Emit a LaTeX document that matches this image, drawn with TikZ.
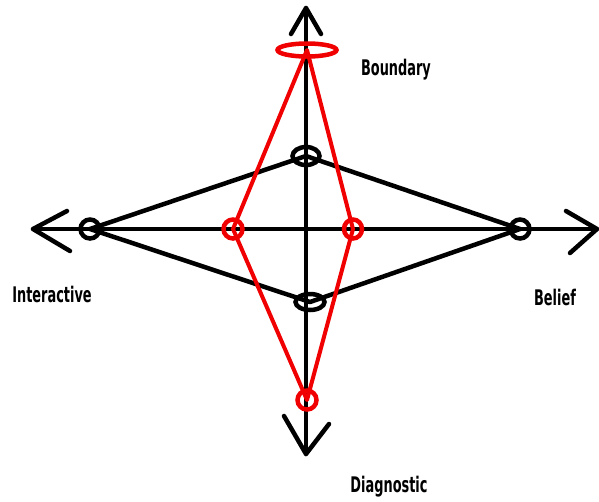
\documentclass[tikz,border=0pt]{standalone}
\usepackage{fontspec}
\newfontfamily\labfont[FakeStretch=0.6]{DejaVu Sans}
\usetikzlibrary{shapes.geometric}
\definecolor{myred}{RGB}{240,0,0}
\begin{document}
\begin{tikzpicture}[x=1pt,y=-1pt,
  blk/.style={line width=4.5pt,black,line cap=round,line join=round},
  rd/.style={line width=4pt,myred,line cap=round,line join=round},
  ring/.style={ellipse,draw,line width=4.5pt,inner sep=0pt},
  lab/.style={font=\labfont\bfseries\fontsize{21.5}{21.5}\selectfont,anchor=base,inner sep=0pt}]
\useasboundingbox[fill=white] (0,0) rectangle (599,501);
% axis end points
\coordinate (top) at (306,8);
\coordinate (bot) at (306,454);
\coordinate (lft) at (33,229);
\coordinate (rgt) at (597,229);
\coordinate (tl) at (291,34);
\coordinate (tr) at (321,34);
\coordinate (bl) at (284,416);
\coordinate (br) at (329,424);
\coordinate (ll) at (67,211);
\coordinate (lb) at (70,251);
\coordinate (ru) at (566,211);
\coordinate (rb) at (570,253);
% axes
\draw[blk] (top) -- (bot);
\draw[blk] (lft) -- (rgt);
\draw[blk] (tl) -- (top) -- (tr);
\draw[blk] (bl) -- (bot) -- (br);
\draw[blk] (ll) -- (lft) -- (lb);
\draw[blk] (ru) -- (rgt) -- (rb);
% vertex markers
\node[ring,black,minimum width=19pt,minimum height=19pt] (bL) at (90,229) {};
\node[ring,black,minimum width=19pt,minimum height=19pt] (bR) at (520,229) {};
\node[ring,black,minimum width=27pt,minimum height=18pt] (bT) at (306,156) {};
\node[ring,black,minimum width=29pt,minimum height=16pt] (bB) at (310,302) {};
\node[ring,myred,minimum width=59pt,minimum height=13pt] (rT) at (307,50) {};
\node[ring,myred,minimum width=19pt,minimum height=19pt] (rL) at (233,229) {};
\node[ring,myred,minimum width=18pt,minimum height=19pt] (rR) at (353,229) {};
\node[ring,myred,minimum width=19pt,minimum height=19pt] (rB) at (307,400) {};
% black diamond
\draw[blk] (bL.center) -- (bT.center) -- (bR.center) -- (bB.center) -- cycle;
% red diamond
\draw[rd] (rT.center) -- (rL.center) -- (rB.center) -- (rR.center) -- cycle;
% labels
\node[lab] (boundary) at (396,75) {Boundary};
\node[lab] (interactive) at (52,302) {Interactive};
\node[lab] (belief) at (555,305) {Belief};
\node[lab] (diagnostic) at (389,492) {Diagnostic};
\end{tikzpicture}
\end{document}
